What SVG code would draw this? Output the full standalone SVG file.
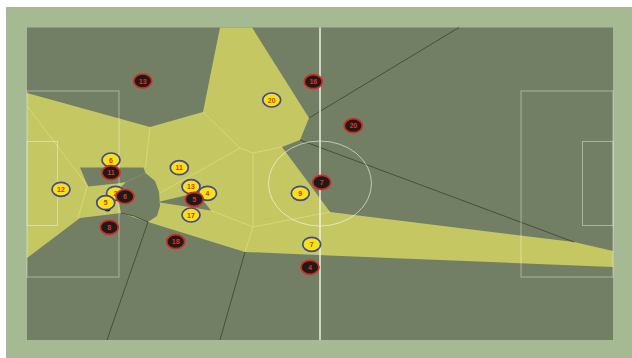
<svg xmlns="http://www.w3.org/2000/svg" width="632" height="358" viewBox="0 0 632 358">
<style>
.yc{fill:#c5c862}
.dc{fill:#737f65}
.dl{fill:none;stroke:#3e4b34;stroke-width:0.9}
.yl{fill:none;stroke:#d9dc78;stroke-width:0.8}
.pl{fill:none;stroke:#ffffff;stroke-opacity:0.4;stroke-width:1}
.py ellipse{fill:#f4e414;stroke:#45459a;stroke-width:1.7}
.pr ellipse{fill:#1b1b1b;stroke:#d62a1e;stroke-width:1.7}
text{font-family:"Liberation Sans",Arial,sans-serif;font-size:7px;font-weight:bold;fill:#e5301c;text-anchor:middle}
</style>
<rect x="6" y="7" width="626" height="351" fill="#a5b993"/>
<rect x="27" y="27.5" width="586" height="312.5" fill="#737f65"/>
<g id="cells">
<polygon class="yc" points="220,27.5 252,27.5 309,118 300,140 282,147 330,212 574,242 613,251 613,267 390,258 245,252 148,222 121,213 80,218 27,258 27,93 150,127 203,112"/>
<polygon class="dc" points="80,167.5 143.5,167.5 145.5,173 126,182 117,183.5 88,186.5"/>
<polygon class="dc" points="126,182 145.5,173 155,181 159,192 160,206 157,216 148,222 134,216 121,213 118,200 119,189"/>
<polygon class="dc" points="160,201.5 188,195 202,199 211,210.5 160,202.5"/>
<polyline class="dl" points="121,213 134,216 148,222 107,340"/>
<line class="dl" x1="245" y1="252" x2="220" y2="340"/>
<line class="dl" x1="309" y1="118" x2="459" y2="27.5"/>
<line class="dl" x1="300" y1="140" x2="574" y2="242"/>
<line class="yl" x1="27" y1="106" x2="88" y2="186.5"/>
<line class="yl" x1="87" y1="186.5" x2="78" y2="218"/>
<line class="yl" x1="150" y1="127" x2="145.5" y2="167.5"/>
<polyline class="yl" points="203,112 240,148 253,153 282,147"/>
<line class="yl" x1="240" y1="148" x2="160" y2="193"/>
<polyline class="yl" points="253,153 253,227 245,252"/>
<line class="yl" x1="211" y1="210.5" x2="253" y2="227"/>
<line class="yl" x1="253" y1="227" x2="330" y2="212"/>
</g>
<g id="pitch-lines">
<rect class="pl" x="27" y="91" width="92" height="186"/>
<rect class="pl" x="27" y="141.5" width="30.5" height="84"/>
<rect class="pl" x="521" y="91" width="92" height="186"/>
<rect class="pl" x="582.5" y="141.5" width="30.5" height="84"/>
<ellipse cx="320" cy="183.5" rx="51.5" ry="42.5" fill="none" stroke="#ffffff" stroke-opacity="0.55" stroke-width="1"/>
<line x1="320" y1="27.5" x2="320" y2="340" stroke="#eef1e6" stroke-width="1.5"/>
</g>
<g id="ball"><ellipse cx="107.5" cy="209" rx="3" ry="2.5" fill="#111"/></g>
<g id="y6" class="py"><ellipse cx="111" cy="160" rx="9" ry="7"/><text x="111" y="162.5">6</text></g>
<g id="y12" class="py"><ellipse cx="61" cy="189.3" rx="9" ry="7"/><text x="61" y="191.8">12</text></g>
<g id="y2" class="py"><ellipse cx="115.5" cy="193.3" rx="9" ry="7"/><text x="115.5" y="195.8">2</text></g>
<g id="y5" class="py"><ellipse cx="105.7" cy="202.7" rx="9" ry="7"/><text x="105.7" y="205.2">5</text></g>
<g id="y11" class="py"><ellipse cx="179.3" cy="167.7" rx="9" ry="7"/><text x="179.3" y="170.2">11</text></g>
<g id="y13" class="py"><ellipse cx="191" cy="186.7" rx="9" ry="7"/><text x="191" y="189.2">13</text></g>
<g id="y4" class="py"><ellipse cx="207.5" cy="193.3" rx="9" ry="7"/><text x="207.5" y="195.8">4</text></g>
<g id="y17" class="py"><ellipse cx="191" cy="215" rx="9" ry="7"/><text x="191" y="217.5">17</text></g>
<g id="y20" class="py"><ellipse cx="271.7" cy="100" rx="9" ry="7"/><text x="271.7" y="102.5">20</text></g>
<g id="y9" class="py"><ellipse cx="300.3" cy="193.3" rx="9" ry="7"/><text x="300.3" y="195.8">9</text></g>
<g id="y7" class="py"><ellipse cx="311.7" cy="244.3" rx="9" ry="7"/><text x="311.7" y="246.8">7</text></g>
<g id="r13" class="pr"><ellipse cx="142.7" cy="81" rx="9" ry="7"/><text x="142.7" y="83.5">13</text></g>
<g id="r11" class="pr"><ellipse cx="111" cy="172.7" rx="9" ry="7"/><text x="111" y="175.2">11</text></g>
<g id="r6" class="pr"><ellipse cx="125" cy="196.5" rx="9" ry="7"/><text x="125" y="199">6</text></g>
<g id="r8" class="pr"><ellipse cx="109.3" cy="227.3" rx="9" ry="7"/><text x="109.3" y="229.8">8</text></g>
<g id="r18" class="pr"><ellipse cx="175.7" cy="241.7" rx="9" ry="7"/><text x="175.7" y="244.2">18</text></g>
<g id="r5" class="pr"><ellipse cx="194.3" cy="199.3" rx="9" ry="7"/><text x="194.3" y="201.8">5</text></g>
<g id="r16" class="pr"><ellipse cx="313.3" cy="81.7" rx="9" ry="7"/><text x="313.3" y="84.2">16</text></g>
<g id="r20" class="pr"><ellipse cx="353.3" cy="125.7" rx="9" ry="7"/><text x="353.3" y="128.2">20</text></g>
<g id="r7" class="pr"><ellipse cx="321.7" cy="182.3" rx="9" ry="7"/><text x="321.7" y="184.8">7</text></g>
<g id="r4" class="pr"><ellipse cx="310" cy="267.3" rx="9" ry="7"/><text x="310" y="269.8">4</text></g>
</svg>
